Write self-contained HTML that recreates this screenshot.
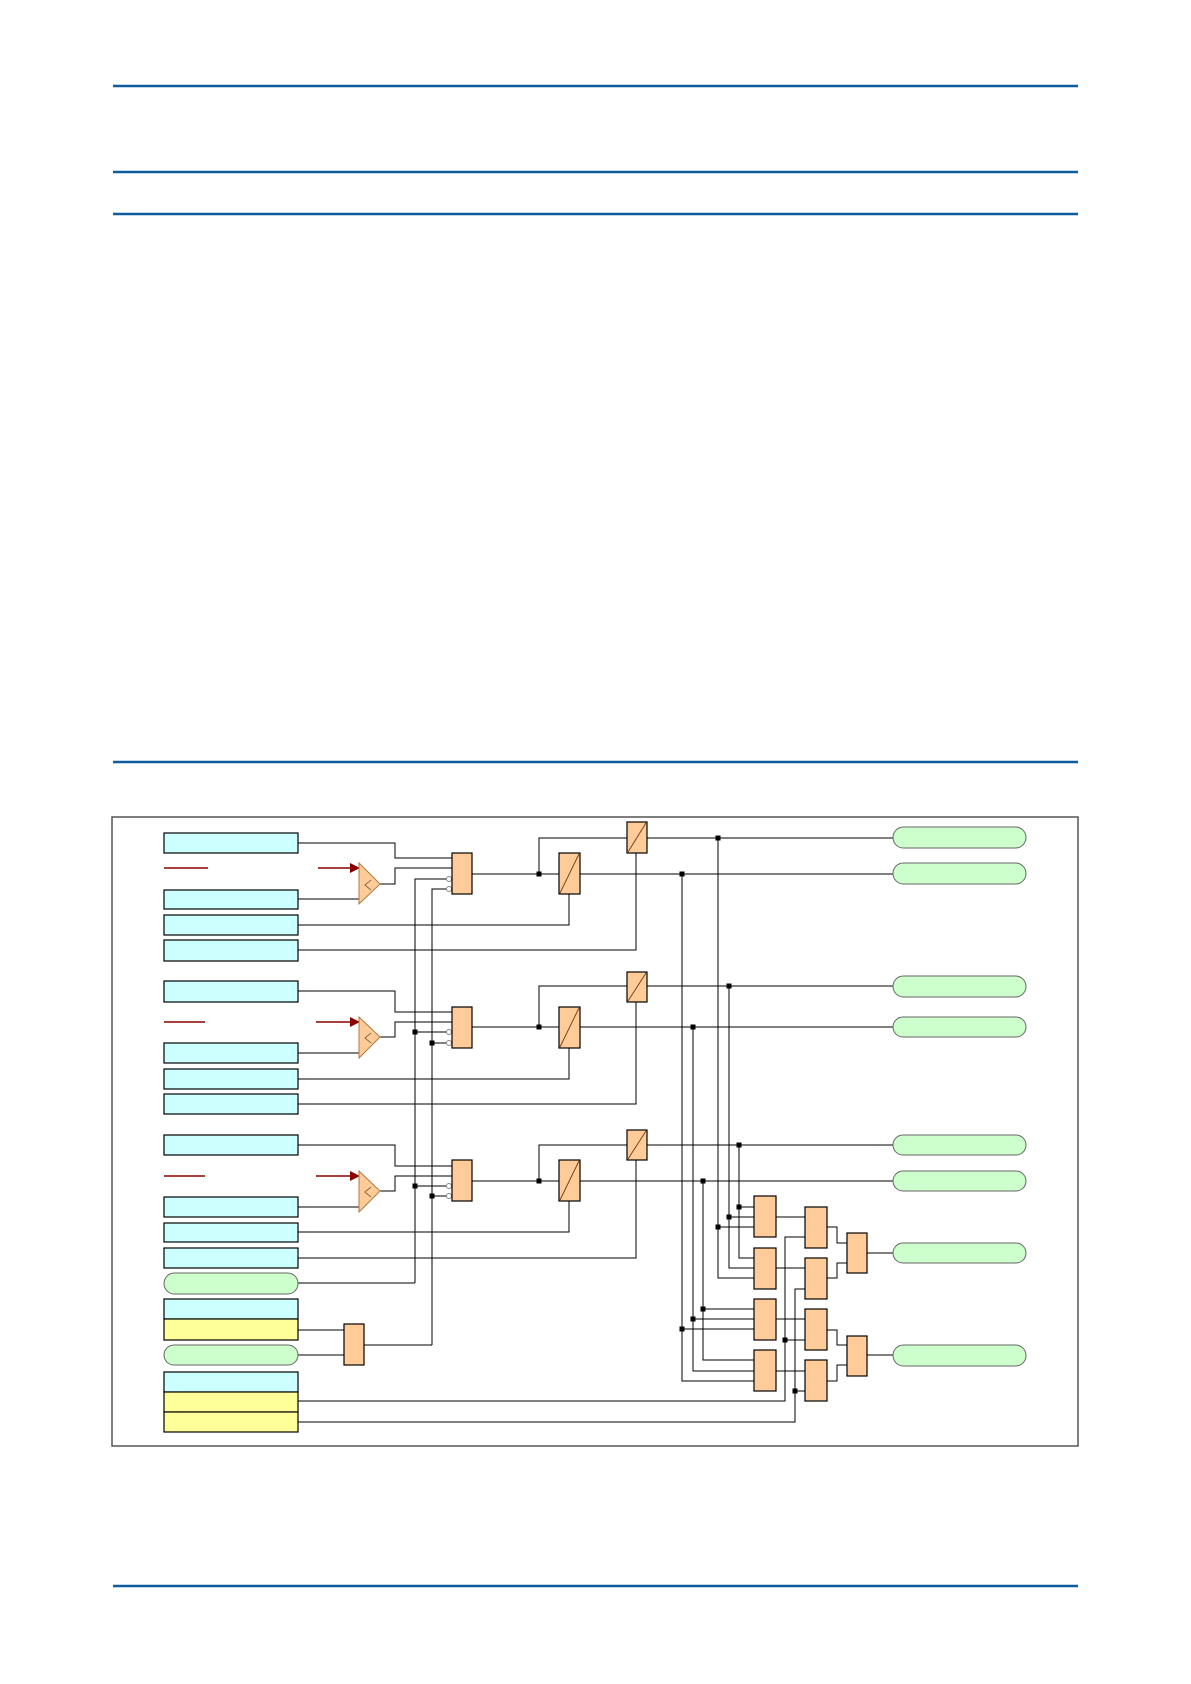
<!DOCTYPE html>
<html><head><meta charset="utf-8"><style>html,body{margin:0;padding:0;background:#fff}svg{display:block}</style></head>
<body>
<svg width="1191" height="1684" viewBox="0 0 1191 1684" xmlns="http://www.w3.org/2000/svg" font-family="Liberation Sans, sans-serif">
<g stroke="#0d5ca0" stroke-width="2.5">
<line x1="113" y1="86" x2="1078" y2="86"/>
<line x1="113" y1="172" x2="1078" y2="172"/>
<line x1="113" y1="214" x2="1078" y2="214"/>
<line x1="113" y1="762" x2="1078" y2="762"/>
<line x1="113" y1="1586" x2="1078" y2="1586"/>
</g>
<rect x="112" y="817" width="966" height="629" fill="none" stroke="#555" stroke-width="1.5"/>

<!-- wires -->
<g fill="none" stroke="#000" stroke-width="1">
<!-- group 1 -->
<polyline points="298,843 395,843 395,858 452,858"/>
<polyline points="380,884 395,884 395,868 452,868"/>
<polyline points="298,899 359,899"/>
<polyline points="298,925 569,925 569,894"/>
<polyline points="298,950 636,950 636,853"/>
<polyline points="415,1283 415,879 447,879"/>
<polyline points="432,1345 432,889 447,889"/>
<polyline points="472,874 559,874"/>
<polyline points="539,874 539,838 627,838"/>
<line x1="647" y1="838" x2="893" y2="838"/>
<line x1="580" y1="874" x2="893" y2="874"/>
<!-- group 2 -->
<polyline points="298,991 395,991 395,1012 452,1012"/>
<polyline points="380,1037 395,1037 395,1022 452,1022"/>
<polyline points="298,1053 359,1053"/>
<polyline points="298,1079 569,1079 569,1048"/>
<polyline points="298,1104 636,1104 636,1002"/>
<line x1="415" y1="1032" x2="447" y2="1032"/>
<line x1="432" y1="1043" x2="447" y2="1043"/>
<polyline points="472,1027 559,1027"/>
<polyline points="539,1027 539,986 627,986"/>
<line x1="647" y1="986" x2="893" y2="986"/>
<line x1="580" y1="1027" x2="893" y2="1027"/>
<!-- group 3 -->
<polyline points="298,1145 395,1145 395,1166 452,1166"/>
<polyline points="380,1191 395,1191 395,1176 452,1176"/>
<polyline points="298,1207 359,1207"/>
<polyline points="298,1232 569,1232 569,1201"/>
<polyline points="298,1258 636,1258 636,1160"/>
<line x1="415" y1="1186" x2="447" y2="1186"/>
<line x1="432" y1="1196" x2="447" y2="1196"/>
<polyline points="472,1181 559,1181"/>
<polyline points="539,1181 539,1145 627,1145"/>
<line x1="647" y1="1145" x2="893" y2="1145"/>
<line x1="580" y1="1181" x2="893" y2="1181"/>
<!-- lower left -->
<line x1="298" y1="1283" x2="415" y2="1283"/>
<line x1="298" y1="1330" x2="344" y2="1330"/>
<line x1="298" y1="1355" x2="344" y2="1355"/>
<line x1="364" y1="1345" x2="432" y2="1345"/>
<polyline points="298,1401 785,1401 785,1237 805,1237"/>
<polyline points="298,1422 795,1422 795,1289 805,1289"/>
<line x1="785" y1="1340" x2="805" y2="1340"/>
<line x1="795" y1="1391" x2="805" y2="1391"/>
<!-- buses -->
<polyline points="682,874 682,1381 754,1381"/>
<polyline points="693,1027 693,1371 754,1371"/>
<polyline points="703,1181 703,1360 754,1360"/>
<polyline points="718,838 718,1278 754,1278"/>
<polyline points="729,986 729,1268 754,1268"/>
<polyline points="739,1145 739,1258 754,1258"/>
<line x1="739" y1="1207" x2="754" y2="1207"/>
<line x1="729" y1="1217" x2="754" y2="1217"/>
<line x1="718" y1="1227" x2="754" y2="1227"/>
<line x1="703" y1="1309" x2="754" y2="1309"/>
<line x1="693" y1="1319" x2="754" y2="1319"/>
<line x1="682" y1="1329" x2="754" y2="1329"/>
<!-- level1 -> level2 -->
<line x1="776" y1="1217" x2="805" y2="1217"/>
<line x1="776" y1="1268" x2="805" y2="1268"/>
<line x1="776" y1="1319" x2="805" y2="1319"/>
<line x1="776" y1="1371" x2="805" y2="1371"/>
<!-- level2 -> level3 -->
<polyline points="827,1227 837,1227 837,1243 847,1243"/>
<polyline points="827,1278 837,1278 837,1263 847,1263"/>
<polyline points="827,1330 837,1330 837,1345 847,1345"/>
<polyline points="827,1381 837,1381 837,1365 847,1365"/>
<line x1="867" y1="1253" x2="893" y2="1253"/>
<line x1="867" y1="1355" x2="893" y2="1355"/>
</g>

<!-- dots -->
<g fill="#000">
<rect x="536.5" y="871.5" width="5" height="5"/><rect x="536.5" y="1024.5" width="5" height="5"/><rect x="536.5" y="1178.5" width="5" height="5"/>
<rect x="412.5" y="1029.5" width="5" height="5"/><rect x="429.5" y="1040.5" width="5" height="5"/>
<rect x="412.5" y="1183.5" width="5" height="5"/><rect x="429.5" y="1193.5" width="5" height="5"/>
<rect x="679.5" y="871.5" width="5" height="5"/><rect x="690.5" y="1024.5" width="5" height="5"/><rect x="700.5" y="1178.5" width="5" height="5"/>
<rect x="715.5" y="835.5" width="5" height="5"/><rect x="726.5" y="983.5" width="5" height="5"/><rect x="736.5" y="1142.5" width="5" height="5"/>
<rect x="736.5" y="1204.5" width="5" height="5"/><rect x="726.5" y="1214.5" width="5" height="5"/><rect x="715.5" y="1224.5" width="5" height="5"/>
<rect x="700.5" y="1306.5" width="5" height="5"/><rect x="690.5" y="1316.5" width="5" height="5"/><rect x="679.5" y="1326.5" width="5" height="5"/>
<rect x="782.5" y="1337.5" width="5" height="5"/><rect x="792.5" y="1388.5" width="5" height="5"/>
</g>

<!-- inversion circles -->
<g fill="#fff" stroke="#888" stroke-width="1">
<circle cx="449" cy="879" r="2.5"/><circle cx="449" cy="889" r="2.5"/>
<circle cx="449" cy="1032" r="2.5"/><circle cx="449" cy="1043" r="2.5"/>
<circle cx="449" cy="1186" r="2.5"/><circle cx="449" cy="1196" r="2.5"/>
</g>

<!-- input boxes -->
<g stroke="#000" stroke-width="1.2">
<g fill="#ccffff">
<rect x="164" y="833" width="134" height="20"/><rect x="164" y="890" width="134" height="19"/><rect x="164" y="915" width="134" height="20"/><rect x="164" y="940" width="134" height="21"/>
<rect x="164" y="981" width="134" height="21"/><rect x="164" y="1043" width="134" height="20"/><rect x="164" y="1069" width="134" height="20"/><rect x="164" y="1094" width="134" height="20"/>
<rect x="164" y="1135" width="134" height="20"/><rect x="164" y="1197" width="134" height="20"/><rect x="164" y="1223" width="134" height="19"/><rect x="164" y="1248" width="134" height="20"/>
<rect x="164" y="1299" width="134" height="20"/><rect x="164" y="1372" width="134" height="20"/>
</g>
<g fill="#ffff99">
<rect x="164" y="1319" width="134" height="21"/><rect x="164" y="1392" width="134" height="20"/><rect x="164" y="1412" width="134" height="20"/>
</g>
</g>
<!-- pills -->
<g fill="#ccffcc" stroke="#666" stroke-width="1">
<rect x="164" y="1273" width="134" height="21" rx="10.5"/>
<rect x="164" y="1345" width="134" height="20" rx="10"/>
<rect x="893" y="827" width="133" height="21" rx="10.5"/>
<rect x="893" y="863" width="133" height="21" rx="10.5"/>
<rect x="893" y="976" width="133" height="21" rx="10.5"/>
<rect x="893" y="1017" width="133" height="20" rx="10"/>
<rect x="893" y="1135" width="133" height="20" rx="10"/>
<rect x="893" y="1171" width="133" height="20" rx="10"/>
<rect x="893" y="1243" width="133" height="20" rx="10"/>
<rect x="893" y="1345" width="133" height="21" rx="10.5"/>
</g>

<!-- red lines and arrows -->
<g stroke="#8b0000" stroke-width="1.5" fill="#8b0000">
<line x1="164" y1="868" x2="208" y2="868"/><line x1="318" y1="868" x2="352" y2="868"/><polygon points="350,863 360,868 350,873" stroke="none"/>
<line x1="164" y1="1022" x2="205" y2="1022"/><line x1="316" y1="1022" x2="352" y2="1022"/><polygon points="350,1017 360,1022 350,1027" stroke="none"/>
<line x1="164" y1="1176" x2="205" y2="1176"/><line x1="316" y1="1176" x2="352" y2="1176"/><polygon points="350,1171 360,1176 350,1181" stroke="none"/>
</g>
<!-- comparators -->
<g fill="#ffcc99" stroke="#b07840" stroke-width="1">
<polygon points="359,863 380,884 359,904"/>
<polygon points="359,1017 380,1037 359,1058"/>
<polygon points="359,1171 380,1191 359,1212"/>
</g>
<g fill="none" stroke="#6b4a2a" stroke-width="0.8">
<polyline points="371,880 365,885 371,890"/>
<polyline points="371,1033 365,1038 371,1043"/>
<polyline points="371,1187 365,1192 371,1197"/>
</g>

<!-- gates -->
<g fill="#ffcc99" stroke="#000" stroke-width="1.2">
<rect x="452" y="853" width="20" height="41"/><rect x="452" y="1007" width="20" height="41"/><rect x="452" y="1160" width="20" height="41"/>
<rect x="344" y="1324" width="20" height="41"/>
<rect x="754" y="1196" width="22" height="41"/><rect x="754" y="1248" width="22" height="41"/><rect x="754" y="1299" width="22" height="41"/><rect x="754" y="1350" width="22" height="41"/>
<rect x="805" y="1207" width="22" height="41"/><rect x="805" y="1258" width="22" height="41"/><rect x="805" y="1309" width="22" height="41"/><rect x="805" y="1360" width="22" height="41"/>
<rect x="847" y="1233" width="20" height="40"/><rect x="847" y="1336" width="20" height="40"/>
<!-- timers -->
<rect x="559" y="853" width="21" height="41"/><rect x="627" y="822" width="20" height="31"/>
<rect x="559" y="1007" width="21" height="41"/><rect x="627" y="972" width="20" height="30"/>
<rect x="559" y="1160" width="21" height="41"/><rect x="627" y="1130" width="20" height="30"/>
</g>
<g stroke="#6b3a10" stroke-width="0.9">
<line x1="560" y1="893" x2="579" y2="854"/><line x1="628" y1="852" x2="646" y2="823"/>
<line x1="560" y1="1047" x2="579" y2="1008"/><line x1="628" y1="1001" x2="646" y2="973"/>
<line x1="560" y1="1200" x2="579" y2="1161"/><line x1="628" y1="1159" x2="646" y2="1131"/>
</g>
</svg>
</body></html>
